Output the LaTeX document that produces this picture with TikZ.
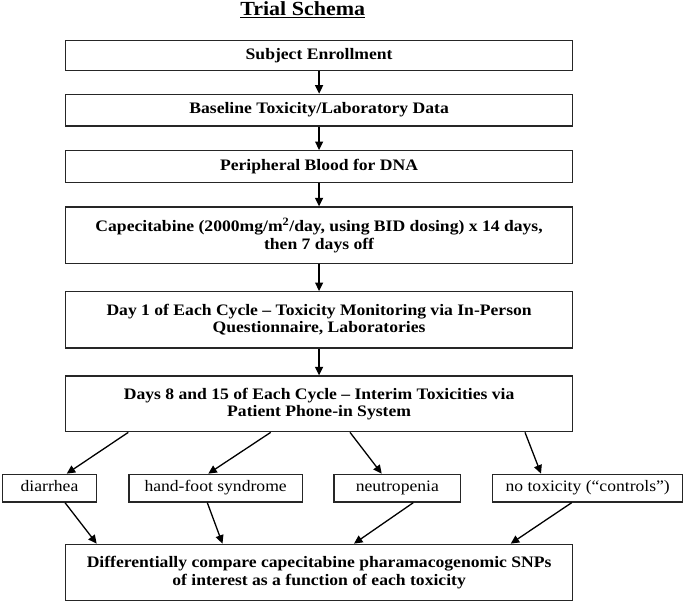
\documentclass[tikz,border=0pt]{standalone}
\usepackage{fontspec}
\setmainfont{Liberation Serif}[FakeStretch=1.1]
\usetikzlibrary{arrows.meta}
\begin{document}
\begin{tikzpicture}[x=1pt,y=-1pt,
  mainbox/.style={draw=black!85,line width=1.3pt,minimum width=507.2pt,inner sep=0pt,align=center,
     font=\fontsize{16}{17.5}\selectfont\bfseries},
  smallbox/.style={draw=black!85,line width=1.3pt,minimum height=27.7pt,inner sep=0pt,
     text height=11pt,text depth=3.5pt,font=\fontsize{16}{18}\selectfont},
  arr/.style={line width=1.3pt,-{Triangle[length=8.5pt,width=8pt]}}]
\useasboundingbox (0,0) rectangle (685,603);
\node[anchor=base,font=\fontsize{20}{22}\selectfont\bfseries] (title) at (302.7,15.5) {\underline{Trial Schema}};
\node[mainbox,minimum height=30.4pt] (B1) at (319.1,55.5) {Subject Enrollment};
\node[mainbox,minimum height=31.7pt] (B2) at (319.1,110.15) {Baseline Toxicity/Laboratory Data};
\node[mainbox,minimum height=31.6pt] (B3) at (319.1,166.5) {Peripheral Blood for DNA};
\node[mainbox,minimum height=56.3pt] (B4) at (319.1,235.15) {Capecitabine (2000mg/m\textsuperscript{2}/day, using BID dosing) x 14 days,\\ then 7 days off};
\node[mainbox,minimum height=56.3pt] (B5) at (319.1,319.85) {Day 1 of Each Cycle – Toxicity Monitoring via In-Person\\ Questionnaire, Laboratories};
\node[mainbox,minimum height=55.7pt] (B6) at (319.1,403.85) {Days 8 and 15 of Each Cycle – Interim Toxicities via\\ Patient Phone-in System};
\node[smallbox,minimum width=94.4pt] (D) at (49.5,488.15) {diarrhea};
\node[smallbox,minimum width=173.3pt] (H) at (215.65,488.15) {hand-foot syndrome};
\node[smallbox,minimum width=126.7pt] (N) at (397.35,488.15) {neutropenia};
\node[smallbox,minimum width=190pt] (T) at (587.7,488.15) {no toxicity (“controls”)};
\node[mainbox,minimum height=56.4pt] (B7) at (319.1,572.5) {Differentially compare capecitabine pharamacogenomic SNPs\\ of interest as a function of each toxicity};
\draw[arr] (B1) -- (B2);
\draw[arr] (B2) -- (B3);
\draw[arr] (B3) -- (B4);
\draw[arr] (B4) -- (B5);
\draw[arr] (B5) -- (B6);
\draw[arr] ([xshift=-190.8pt]B6.south) -- ([xshift=17.2pt]D.north);
\draw[arr] ([xshift=-48.4pt]B6.south) -- ([xshift=-7.35pt]H.north);
\draw[arr] ([xshift=30.9pt]B6.south) -- ([xshift=-15.65pt]N.north);
\draw[arr] ([xshift=205.9pt]B6.south) -- ([xshift=-46.7pt]T.north);
\draw[arr] ([xshift=15.5pt]D.south) -- ([xshift=-222.4pt]B7.north);
\draw[arr] ([xshift=-8.35pt]H.south) -- ([xshift=-96.6pt]B7.north);
\draw[arr] ([xshift=15.95pt]N.south) -- ([xshift=34.9pt]B7.north);
\draw[arr] ([xshift=-16pt]T.south) -- ([xshift=191.6pt]B7.north);
\end{tikzpicture}
\end{document}
